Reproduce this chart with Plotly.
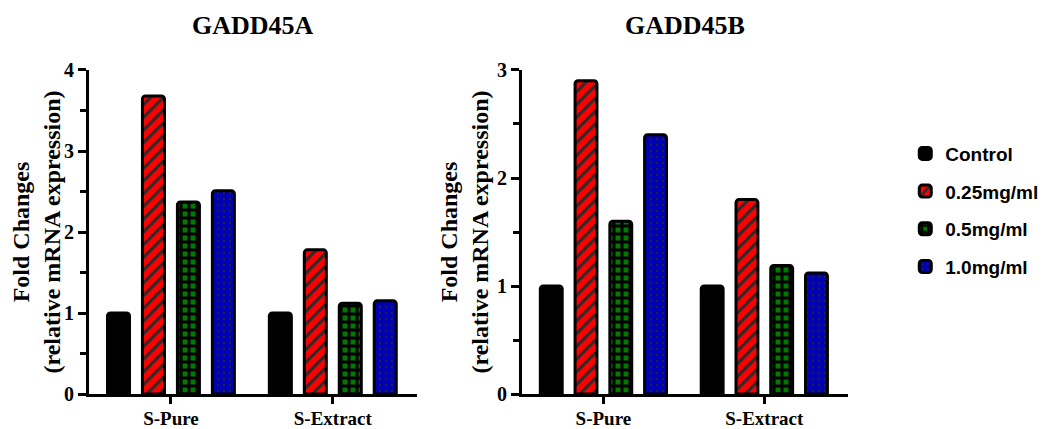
import plotly.graph_objects as go
from plotly.subplots import make_subplots

categories = ["S-Pure", "S-Extract"]
series_names = ["Control", "0.25mg/ml", "0.5mg/ml", "1.0mg/ml"]
gadd45a = {
    "Control": [1.0, 1.0],
    "0.25mg/ml": [3.68, 1.78],
    "0.5mg/ml": [2.37, 1.12],
    "1.0mg/ml": [2.51, 1.15],
}
gadd45b = {
    "Control": [1.0, 1.0],
    "0.25mg/ml": [2.90, 1.80],
    "0.5mg/ml": [1.60, 1.19],
    "1.0mg/ml": [2.40, 1.12],
}
panel_titles = ["GADD45A", "GADD45B"]
y_title = "Fold Changes<br>(relative mRNA expression)"

styles = {
    "Control": dict(color="#000000", pattern=dict(shape="")),
    "0.25mg/ml": dict(color="#ff0000", pattern=dict(shape="/", fgcolor="#2b2b2b", bgcolor="#ff0000", size=9, solidity=0.35, fillmode="replace")),
    "0.5mg/ml": dict(color="#007a00", pattern=dict(shape="+", fgcolor="#000000", bgcolor="#007a00", size=8, solidity=0.62, fillmode="replace")),
    "1.0mg/ml": dict(color="#0000b4", pattern=dict(shape=".", fgcolor="#202040", bgcolor="#0000b4", size=6, solidity=0.12, fillmode="replace")),
}

fig = make_subplots(rows=1, cols=2)
serif = "Liberation Serif, Times New Roman, serif"
sans = "Liberation Sans, Arial, sans-serif"

for col, data in [(1, gadd45a), (2, gadd45b)]:
    for name in series_names:
        st = styles[name]
        fig.add_trace(go.Bar(
            x=categories, y=data[name], name=name,
            legendgroup=name, showlegend=(col == 1),
            marker=dict(color=st["color"], pattern=st["pattern"],
                        line=dict(color="#000000", width=3), cornerradius=3),
        ), row=1, col=col)

fig.update_layout(
    width=1047, height=429, autosize=False,
    margin=dict(l=0, r=0, t=0, b=0),
    paper_bgcolor="white", plot_bgcolor="white",
    barmode="group", bargap=0.136, bargroupgap=0.37,
    legend=dict(x=0.857, y=0.705, xanchor="left", yanchor="top",
                font=dict(family=sans, size=19, color="black", weight="bold"),
                tracegroupgap=10, bgcolor="rgba(0,0,0,0)"),
    xaxis=dict(domain=[0.0774, 0.3906]),
    xaxis2=dict(domain=[0.4909, 0.8023]),
)

axis_common = dict(showline=True, linecolor="black", linewidth=3, ticks="outside",
                   tickcolor="black", tickwidth=3, showgrid=False, zeroline=False,
                   automargin=False)
tick_font = dict(family=serif, size=20, color="black", weight="bold")
fig.update_xaxes(range=[-0.506, 1.52], ticklen=7, ticklabelstandoff=-2,
                 tickfont=dict(tick_font, size=19), **axis_common)
for col, rng in [(1, [0, 4]), (2, [0, 3])]:
    fig.update_yaxes(range=rng, dtick=1, ticklen=8, domain=[0.1002, 0.8555],
                     tickfont=tick_font,
                     minor=dict(dtick=0.5, ticklen=6, ticks="outside", tickcolor="black", tickwidth=3),
                     title=dict(text=y_title, standoff=2,
                                font=dict(family=serif, size=24, color="black", weight="bold")),
                     row=1, col=col, **axis_common)

for i, t in enumerate(panel_titles):
    xref = "x domain" if i == 0 else "x2 domain"
    fig.add_annotation(text=t, xref=xref, yref="paper", x=0.5, y=0.960,
                       xanchor="center", yanchor="middle", showarrow=False,
                       font=dict(family=serif, size=26, color="black", weight="bold"))

fig.write_html("out.html")
